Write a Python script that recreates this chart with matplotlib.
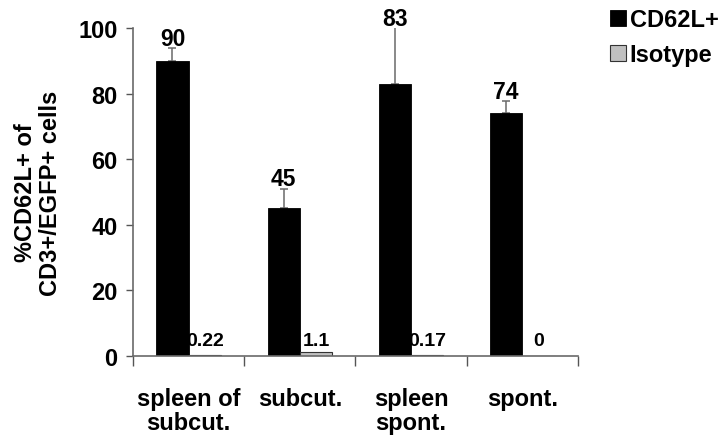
import matplotlib
matplotlib.use("Agg")
import matplotlib.pyplot as plt
import numpy as np

plt.rcParams['font.family'] = ['Liberation Sans', 'DejaVu Sans']
plt.rcParams['font.weight'] = 'bold'

categories = ["spleen of\nsubcut.", "subcut.", "spleen\nspont.", "spont."]
cd62l = [90, 45, 83, 74]
cd62l_err = [3.9, 6.0, 17.5, 3.7]
isotype = [0.22, 1.1, 0.17, 0]
cd62l_labels = ["90", "45", "83", "74"]
isotype_labels = ["0.22", "1.1", "0.17", "0"]
yticks = [0, 20, 40, 60, 80, 100]

fig = plt.figure(figsize=(7.24, 4.39), dpi=100)
ax = fig.add_axes([0.1837, 0.1868, 0.6146, 0.7472])

x = np.arange(len(categories))
w = 0.29
ax.bar(x - w / 2, cd62l, w, color="black", edgecolor="black", linewidth=0.6,
       label="CD62L+", zorder=2)
ax.bar(x + w / 2, isotype, w, color="#c0c0c0", edgecolor="#333333", linewidth=0.8,
       label="Isotype", zorder=2)
ax.errorbar(x - w / 2, cd62l, yerr=[np.zeros(len(cd62l)), cd62l_err], fmt="none",
            ecolor="#6a6a6a", elinewidth=1.1, capsize=3, capthick=1.1, zorder=1)

for xi, v, e, lab in zip(x, cd62l, cd62l_err, cd62l_labels):
    ax.text(xi - w / 2, min(v + e, 100) + 1.0, lab, ha="center", va="baseline",
            fontsize=16.5, fontweight="bold", clip_on=False)
for xi, lab in zip(x, isotype_labels):
    ax.text(xi + w / 2, 3.5, lab, ha="center", va="baseline",
            fontsize=14, fontweight="bold")

ax.set_xlim(-0.5, len(categories) - 0.5)
ax.set_ylim(0, 100)
ax.set_yticks(yticks)
ax.set_yticklabels([str(t) for t in yticks], fontsize=17, fontweight="bold")
ax.set_xticks(x)
ax.set_xticklabels(categories, fontsize=17, fontweight="bold", linespacing=1.1)
ax.tick_params(axis="x", length=0, pad=22)
ax.set_xticks(np.arange(len(categories) + 1) - 0.5, minor=True)
ax.tick_params(axis="x", which="minor", length=7, width=1, color="#555555",
               direction="out")
ax.tick_params(axis="y", length=5, width=1, color="#555555", direction="out",
               pad=6)

for s in ["top", "right"]:
    ax.spines[s].set_visible(False)
for s in ["left", "bottom"]:
    ax.spines[s].set_color("#6a6a6a")
    ax.spines[s].set_linewidth(1.2)

ax.set_ylabel("%CD62L+ of\nCD3+/EGFP+ cells", fontsize=17, fontweight="bold",
              labelpad=12, linespacing=1.1)

leg = ax.legend(loc="upper left", bbox_to_anchor=(1.072, 1.06), frameon=False,
                fontsize=17, handlelength=0.68, handleheight=0.68,
                handletextpad=0.15, labelspacing=0.5, borderaxespad=0,
                borderpad=0)
for t in leg.get_texts():
    t.set_fontweight("bold")

fig.savefig("out.png", dpi=100)
